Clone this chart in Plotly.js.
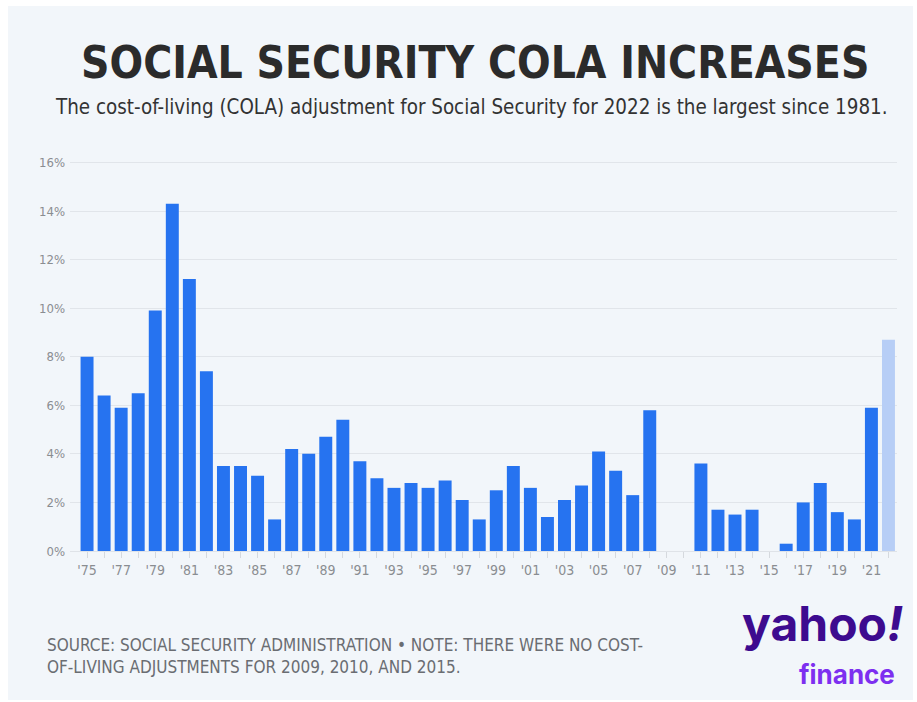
<!DOCTYPE html>
<html><head><meta charset="utf-8">
<script src="https://cdn.plot.ly/plotly-3.0.1.min.js"></script>
<style>html,body{margin:0;padding:0;background:#fff;}#chart{width:917px;height:702px;}</style>
</head><body><div id="chart"></div>
<script>
const years = [1975,1976,1977,1978,1979,1980,1981,1982,1983,1984,1985,1986,1987,1988,1989,1990,1991,1992,1993,1994,1995,1996,1997,1998,1999,2000,2001,2002,2003,2004,2005,2006,2007,2008,2009,2010,2011,2012,2013,2014,2015,2016,2017,2018,2019,2020,2021];
const cola = [8.0,6.4,5.9,6.5,9.9,14.3,11.2,7.4,3.5,3.5,3.1,1.3,4.2,4.0,4.7,5.4,3.7,3.0,2.6,2.8,2.6,2.9,2.1,1.3,2.5,3.5,2.6,1.4,2.1,2.7,4.1,3.3,2.3,5.8,0,0,3.6,1.7,1.5,1.7,0,0.3,2.0,2.8,1.6,1.3,5.9];
const year2022 = [2022];
const cola2022 = [8.7];
const xTickVals = [1975,1977,1979,1981,1983,1985,1987,1989,1991,1993,1995,1997,1999,2001,2003,2005,2007,2009,2011,2013,2015,2017,2019,2021];
const xTickText = ["'75","'77","'79","'81","'83","'85","'87","'89","'91","'93","'95","'97","'99","'01","'03","'05","'07","'09","'11","'13","'15","'17","'19","'21"];
const yTickVals = [0,2,4,6,8,10,12,14,16];
const yTickText = ["0%","2%","4%","6%","8%","10%","12%","14%","16%"];

const narrow = "'Liberation Sans Narrow', 'DejaVu Sans Condensed', 'Roboto', sans-serif";

const traces = [
  {type:'bar', x: years, y: cola, marker:{color:'#2673f0'}, hoverinfo:'x+y'},
  {type:'bar', x: year2022, y: cola2022, marker:{color:'#b7cef6'}, hoverinfo:'x+y'}
];

const layout = {
  width:917, height:702,
  paper_bgcolor:'#ffffff', plot_bgcolor:'rgba(0,0,0,0)',
  margin:{l:70, r:20, t:160, b:151},
  showlegend:false,
  bargap:0.24,
  barmode:'overlay',
  xaxis:{
    range:[1974,2022.5], tickvals:xTickVals, ticktext:xTickText,
    ticks:'outside', ticklen:6, tickcolor:'#d5d9de', showgrid:false, zeroline:false,
    tickfont:{family:narrow, size:14, color:'#8a8d91'},
    minor:{tickvals: years.concat(year2022), ticks:'outside', ticklen:6, tickcolor:'#d5d9de', showgrid:false},
    showline:true, linecolor:'#dfe3e8', linewidth:1, fixedrange:true
  },
  yaxis:{
    range:[0,16.1], tickvals:yTickVals, ticktext:yTickText,
    gridcolor:'#e1e5ea', gridwidth:1, zeroline:false, showline:false,
    tickfont:{family:narrow, size:13, color:'#8a8d91'}, ticklabelstandoff:4, fixedrange:true
  },
  shapes:[
    {type:'rect', xref:'paper', yref:'paper', x0:-0.075, x1:1.0193, y0:-0.381, y1:1.394, fillcolor:'#f2f6fa', line:{width:0}, layer:'below'}
  ],
  annotations:[
    {xref:'paper', yref:'paper', x:0.4903, y:1.0, yshift:98, xanchor:'center', yanchor:'middle', showarrow:false,
     text:'<b>SOCIAL SECURITY COLA INCREASES</b>', font:{family:"'DejaVu Sans Condensed', 'Liberation Sans Narrow', sans-serif", size:44, color:'#2b2b2b'}},
    {xref:'paper', yref:'paper', x:0.9915, y:1.0, yshift:53, xanchor:'right', yanchor:'middle', showarrow:false,
     text:'The cost-of-living (COLA) adjustment for Social Security for 2022 is the largest since 1981.', font:{family:narrow, size:20.4, color:'#333333'}},
    {xref:'paper', yref:'paper', x:-0.0302, y:0, yshift:-82, xanchor:'left', yanchor:'top', align:'left', showarrow:false,
     text:'SOURCE: SOCIAL SECURITY ADMINISTRATION • NOTE: THERE WERE NO COST-<br>OF-LIVING ADJUSTMENTS FOR 2009, 2010, AND 2015.', font:{family:narrow, size:17, color:'#6a6d72'}},
    {xref:'paper', yref:'paper', x:1.0097, y:0, yshift:-72, xanchor:'right', yanchor:'middle', showarrow:false,
     text:'<b>yahoo<i>!</i></b>', font:{family:"Inter, 'DejaVu Sans', sans-serif", size:48, color:'#3d0b8f', weight:900}},
    {xref:'paper', yref:'paper', x:1.0, y:0, yshift:-123, xanchor:'right', yanchor:'middle', showarrow:false,
     text:'<b>finance</b>', font:{family:"Inter, 'DejaVu Sans', sans-serif", size:26, color:'#7d2ff0', weight:900}}
  ]
};

Plotly.newPlot('chart', traces, layout, {displayModeBar:false, staticPlot:true});
</script></body></html>
